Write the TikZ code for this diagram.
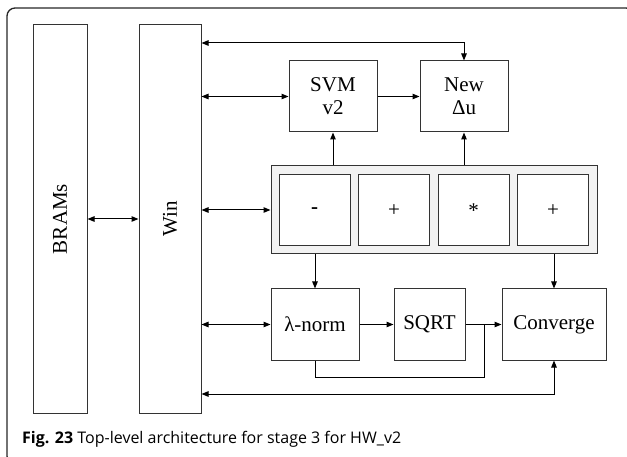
\documentclass[tikz,border=0pt]{standalone}
\usepackage{fontspec}
\setmainfont{Liberation Serif}
\newfontfamily\capfont{Open Sans}
\usetikzlibrary{arrows.meta,positioning}

\begin{document}
\begin{tikzpicture}[
  x=1pt, y=-1pt,
  box/.style    ={draw=black!80, line width=1pt, inner sep=2pt, align=center,
                  font=\fontsize{21}{23}\selectfont, minimum width=88pt, minimum height=71pt},
  tallbox/.style={box, minimum height=388pt},
  opbox/.style  ={box, fill=white, minimum width=71pt},
  arraybox/.style={draw=black!80, line width=1pt, fill=black!5, minimum width=326pt, minimum height=88pt},
  arr/.style    ={-{Triangle[length=7pt,width=5.5pt]}, line width=1pt},
  dbl/.style    ={{Triangle[length=7pt,width=5.5pt]}-{Triangle[length=7pt,width=5.5pt]}, line width=1pt},
  plain/.style  ={line width=1pt}
]
\useasboundingbox (0,0) rectangle (627,457);

%%% ---- frame -----------------------------------------------------------
\begin{scope}
\clip (0,0) rectangle (627,457);
\draw[line width=1.3pt, black!85, rounded corners=8pt] (14,464) -- (7,464) -- (7,8) -- (634,8) -- (634,40);
\end{scope}

%%% ---- memories (left) -------------------------------------------------
\node[tallbox, minimum width=54pt] (brams) at (60,219)  {\rotatebox{90}{BRAMs}};
\node[tallbox, minimum width=62pt] (win)   at (170,219) {\rotatebox{90}{Win}};

%%% ---- top row ---------------------------------------------------------
\node[box] (svm)   at (333,96.5) {SVM\\v2};
\node[box] (newdu) at (464,96.5) {New\\Δu};

%%% ---- operator array --------------------------------------------------
\node[arraybox] (ops) at (434,210) {};
\node[opbox] (opsub) at (314.5,210.5) {\textbf{-}};
\node[opbox] (opadd) at (394,210.5)   {+};
\node[opbox] (opmul) at (473.5,210.5) {*};
\node[opbox] (opsum) at (553,210.5)   {+};

%%% ---- bottom row ------------------------------------------------------
\node[box] (lnorm) at (315,324.5)   {λ-norm};
\node[box, minimum width=71pt]  (sqrt) at (429.5,324.5) {SQRT};
\node[box, minimum width=104pt] (conv) at (554,324.5)   {Converge};

% helper points for the buses
\coordinate (topbus) at (0,43);
\coordinate (lowbus) at (0,394);
\coordinate (jn)     at (484,324.5);

%%% ---- connectors ------------------------------------------------------
\draw[dbl] (brams) -- (win);
\draw[dbl] (win.east |- topbus) -| (newdu.north);
\draw[dbl] (win.east |- svm.west) -- (svm.west);
\draw[arr] (svm) -- (newdu);
\draw[arr] (svm.south |- ops.north) -- (svm.south);
\draw[arr] (newdu.south |- ops.north) -- (newdu.south);
\draw[dbl] (win.east |- ops.west) -- (ops.west);
\draw[arr] (lnorm.north |- ops.south) -- (lnorm.north);
\draw[arr] (conv.north |- ops.south) -- (conv.north);
\draw[dbl] (win.east |- lnorm.west) -- (lnorm.west);
\draw[arr] (lnorm) -- (sqrt);
\draw[arr] (sqrt) -- (conv);
\draw[plain] (lnorm.south) -- ++(0,17) -| (jn);
\draw[dbl] (win.east |- lowbus) -| (conv.south);

%%% ---- caption ---------------------------------------------------------
\node[anchor=base west, inner sep=0pt, font=\capfont\fontsize{16}{18}\selectfont] (cap) at (22,443)
  {\textbf{Fig. 23} Top-level architecture for stage 3 for HW\_v2};

\end{tikzpicture}
\end{document}
